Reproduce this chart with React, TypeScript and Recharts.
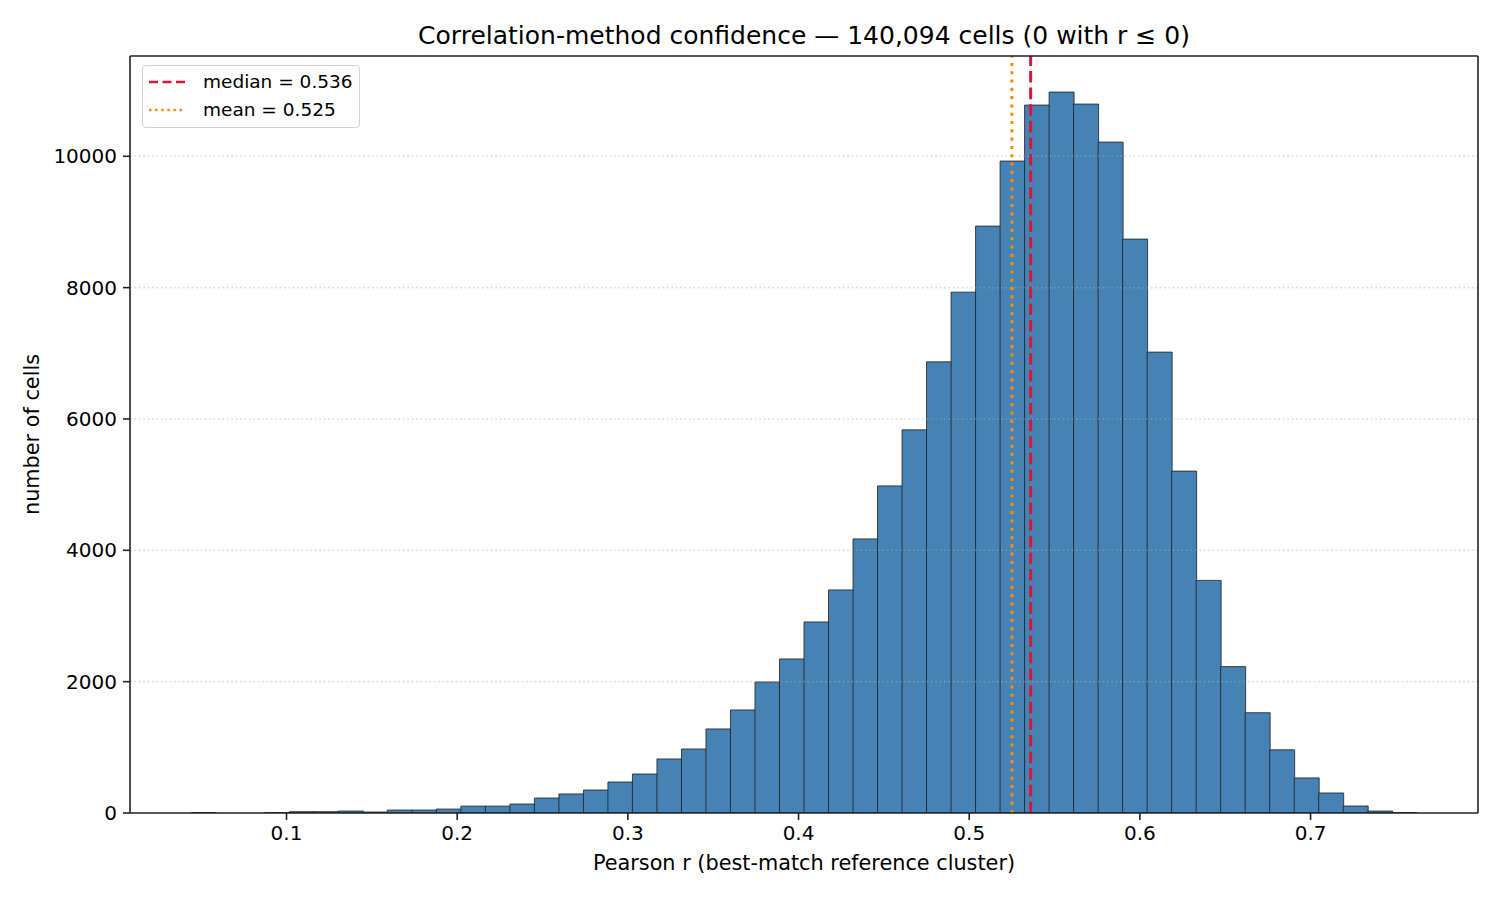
import React from 'react';
import { BarChart, Bar, XAxis, YAxis, ReferenceLine, Legend } from 'recharts';

// histogram of best-match Pearson r, 50 equal bins between the min and max value
const BIN_MIN = 0.0442;
const BIN_MAX = 0.7622;
const COUNTS = [
  5, 0, 0, 5, 20, 20, 30, 15, 45, 45,
  60, 105, 105, 137, 228, 290, 350, 472, 594, 823,
  975, 1280, 1569, 1995, 2346, 2909, 3397, 4174, 4981, 5834,
  6870, 7931, 8937, 9927, 10780, 10978, 10795, 10216, 8739, 7018,
  5206, 3542, 2229, 1527, 962, 534, 305, 107, 30, 5,
];
const X_TICKS = [0.1, 0.2, 0.3, 0.4, 0.5, 0.6, 0.7];
const Y_TICKS = [0, 2000, 4000, 6000, 8000, 10000];
const MEDIAN = 0.536;
const MEAN = 0.525;
const TOTAL_LABEL = '140,094';

const binWidth = (BIN_MAX - BIN_MIN) / COUNTS.length;
const data = COUNTS.map((count, i) => ({
  mid: BIN_MIN + (i + 0.5) * binWidth,
  count,
}));

// matplotlib-style 5% margins
const pad = (BIN_MAX - BIN_MIN) * 0.05;
const X_DOMAIN: [number, number] = [BIN_MIN - pad, BIN_MAX + pad];
const Y_MAX = Math.max(...COUNTS) * 1.05;

const FONT = '"DejaVu Sans", "Liberation Sans", sans-serif';
const AXIS = '#222';

function LegendBox() {
  const rows = [
    { label: `median = ${MEDIAN}`, color: '#dc143c', dash: '9 4.5' },
    { label: `mean = ${MEAN}`, color: '#ff8c00', dash: '2.5 3.6' },
  ];
  return (
    <div
      style={{
        width: 218,
        height: 63,
        boxSizing: 'border-box',
        border: '1px solid #d3d3d3',
        borderRadius: 4,
        background: 'rgba(255,255,255,0.8)',
        paddingTop: 2,
        fontFamily: FONT,
        fontSize: 18.5,
        color: '#000',
      }}
    >
      {rows.map((r) => (
        <div key={r.label} style={{ display: 'flex', alignItems: 'center', height: 27.7 }}>
          <svg width={36} height={6} style={{ marginLeft: 6 }}>
            <line x1={0} y1={3} x2={36} y2={3} stroke={r.color} strokeWidth={2.6} strokeDasharray={r.dash} />
          </svg>
          <span style={{ marginLeft: 18, whiteSpace: 'nowrap' }}>{r.label}</span>
        </div>
      ))}
    </div>
  );
}

export default function App() {
  return (
    <div style={{ position: 'absolute', left: 0, top: 0, width: 1500, height: 900, background: '#fff', fontFamily: FONT }}>
      <div
        style={{
          position: 'absolute',
          left: 130,
          width: 1348,
          top: 21,
          lineHeight: '30px',
          textAlign: 'center',
          fontSize: 25,
          color: '#000',
          zIndex: 2,
        }}
      >
        Correlation-method confidence — {TOTAL_LABEL} cells (0 with r ≤ 0)
      </div>
      <BarChart
        width={1500}
        height={900}
        data={data}
        margin={{ top: 56, right: 22, bottom: 0, left: 0 }}
        barCategoryGap={0}
        barGap={0}
      >
        <XAxis
          type="number"
          dataKey="mid"
          domain={X_DOMAIN}
          ticks={X_TICKS}
          allowDataOverflow
          height={87}
          tickSize={7}
          tickMargin={6}
          axisLine={{ stroke: AXIS, strokeWidth: 1.6 }}
          tickLine={{ stroke: AXIS, strokeWidth: 1.6 }}
          tick={{ fontSize: 20, fill: '#000' }}
          label={{
            value: 'Pearson r (best-match reference cluster)',
            position: 'insideBottom',
            offset: 30,
            style: { fontSize: 20.8, fill: '#000' },
          }}
        />
        <YAxis
          type="number"
          domain={[0, Y_MAX]}
          ticks={Y_TICKS}
          allowDataOverflow
          width={130}
          tickSize={7}
          tickMargin={6}
          axisLine={{ stroke: AXIS, strokeWidth: 1.6 }}
          tickLine={{ stroke: AXIS, strokeWidth: 1.6 }}
          tick={{ fontSize: 20, fill: '#000' }}
          label={{
            value: 'number of cells',
            angle: -90,
            position: 'insideLeft',
            offset: 32,
            style: { fontSize: 20.8, fill: '#000', textAnchor: 'middle' },
          }}
        />
        <Bar dataKey="count" fill="#4682b4" stroke="#1f1f1f" strokeWidth={0.8} isAnimationActive={false} />
        {Y_TICKS.slice(1).map((v) => (
          <ReferenceLine key={v} y={v} stroke="#b0b0b0" strokeOpacity={0.45} strokeWidth={1.6} strokeDasharray="1.7 2.7" />
        ))}
        <ReferenceLine x={MEAN} stroke="#ff8c00" strokeWidth={3} strokeDasharray="3.1 5.2" />
        <ReferenceLine x={MEDIAN} stroke="#dc143c" strokeWidth={3} strokeDasharray="11.6 5" />
        <ReferenceLine y={Y_MAX} stroke={AXIS} strokeWidth={1.6} />
        <ReferenceLine x={X_DOMAIN[1]} stroke={AXIS} strokeWidth={1.6} />
        <Legend
          layout="horizontal"
          verticalAlign="middle"
          align="center"
          content={() => <LegendBox />}
          wrapperStyle={{ left: 142, top: 65, width: 218, height: 63 }}
        />
      </BarChart>
    </div>
  );
}
